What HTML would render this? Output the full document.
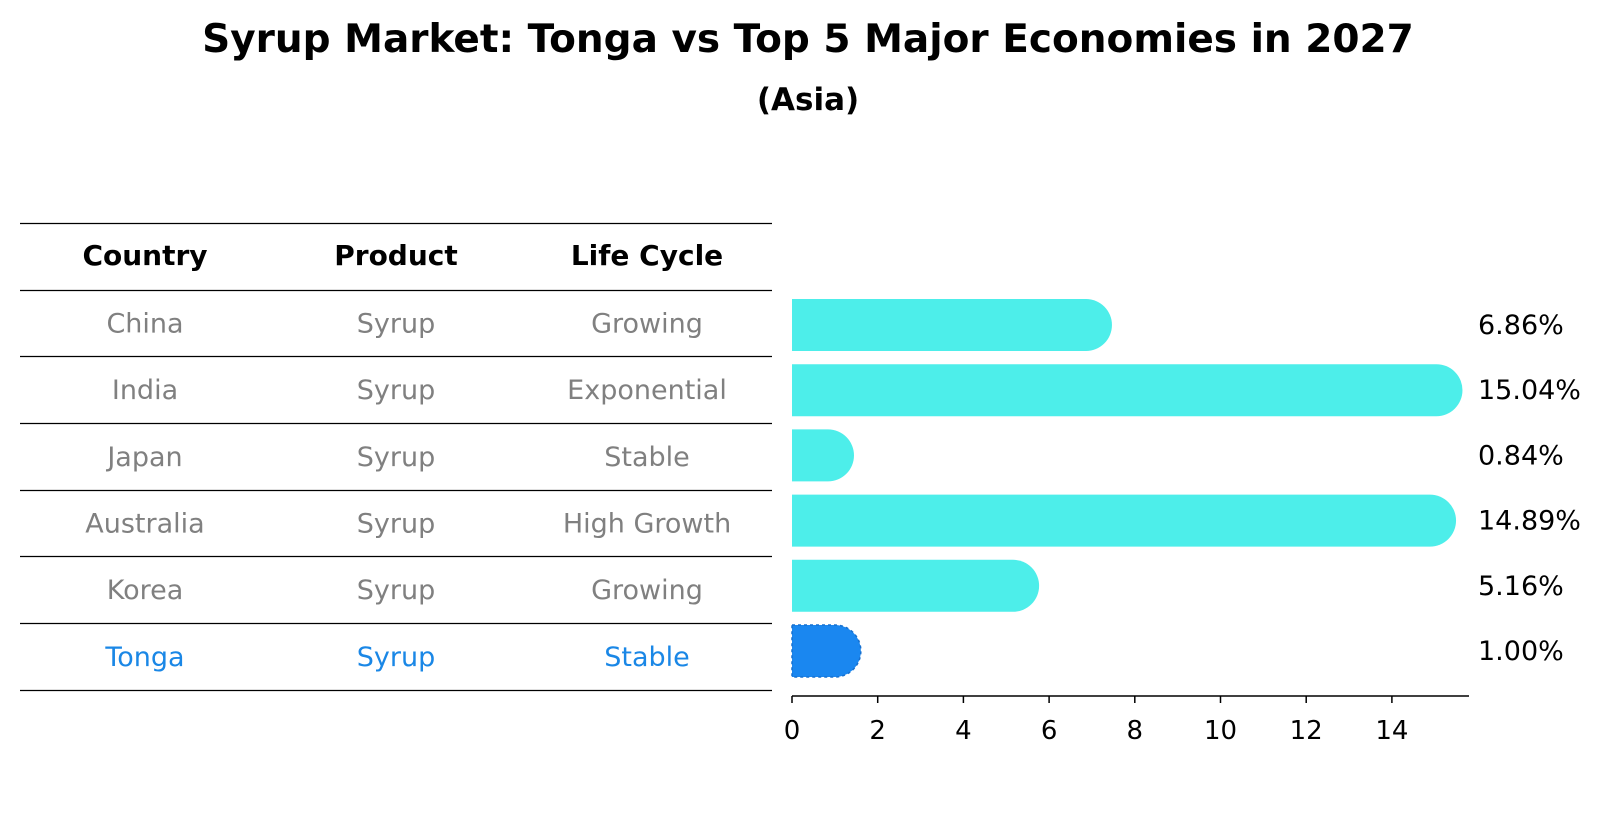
<!DOCTYPE html>
<html><head><meta charset="utf-8"><style>
body{margin:0;background:#fff;font-family:"Liberation Sans","DejaVu Sans",sans-serif}
svg text{font-family:"DejaVu Sans","Liberation Sans",sans-serif}
</style></head><body>
<svg id="c" width="1604" height="823" xmlns="http://www.w3.org/2000/svg">
<text x="808" y="52" text-anchor="middle" font-size="39" font-weight="bold">Syrup Market: Tonga vs Top 5 Major Economies in 2027</text>
<text x="808" y="110" text-anchor="middle" font-size="31" font-weight="bold">(Asia)</text>
<g id="table"></g>
<g id="bars"></g>
</svg>
<script>
const countries=["China","India","Japan","Australia","Korea","Tonga"];
const products=["Syrup","Syrup","Syrup","Syrup","Syrup","Syrup"];
const lifecycles=["Growing","Exponential","Stable","High Growth","Growing","Stable"];
const values=[6.86,15.04,0.84,14.89,5.16,1.00];
const labels=["6.86%","15.04%","0.84%","14.89%","5.16%","1.00%"];
const ticks=[0,2,4,6,8,10,12,14];
const NS="http://www.w3.org/2000/svg";
function mk(tag,attrs,parent,txt){const e=document.createElementNS(NS,tag);for(const k in attrs)e.setAttribute(k,attrs[k]);if(txt!==undefined)e.textContent=txt;parent.appendChild(e);return e;}
const x0=792,sc=42.85,y0=325,dy=65.2,h=52,r=26;
const X=v=>x0+v*sc, Y=i=>y0+i*dy;
const tb=document.getElementById('table'), bg=document.getElementById('bars');
const colX=[145,396,647];
const lineY=[223,290,356,423,490,556,623,690];
lineY.forEach(y=>{const l=mk('line',{x1:20,x2:772,y1:y+0.5,y2:y+0.5,stroke:'#000','stroke-width':1.2},tb);

});
["Country","Product","Life Cycle"].forEach((t,j)=>{const e=mk('text',{x:colX[j],y:265,'text-anchor':'middle','font-size':28,'font-weight':'bold'},tb,t);

});
countries.forEach((c,i)=>{const cy=(lineY[i+1]+lineY[i+2])/2+9.5;const col=c==="Tonga"?"#1a87e6":"#808080";
[c,products[i],lifecycles[i]].forEach((t,j)=>{const e=mk('text',{x:colX[j],y:cy,'text-anchor':'middle','font-size':27,fill:col},tb,t);

});
const isT=c==="Tonga";const xe=X(values[i]),yc=Y(i);
const d=`M${x0},${yc-h/2} H${xe} A${r},${r} 0 0 1 ${xe},${yc+h/2} H${x0} Z`;
const b=mk('path',{d:d,fill:isT?'#1a87f0':'#4deeea',stroke:isT?'#1670d0':'none','stroke-width':isT?1.5:0,'stroke-dasharray':isT?'3,3':''},bg);


const lb=mk('text',{x:1478,y:yc+9,'font-size':27},bg,labels[i]);

});
const ax=mk('line',{x1:x0,x2:1469,y1:696,y2:696,stroke:'#000','stroke-width':1.5},bg);


ticks.forEach(t=>{const tk=mk('line',{x1:X(t),x2:X(t),y1:696,y2:703,stroke:'#000','stroke-width':1.5},bg);


const tl=mk('text',{x:X(t),y:739,'text-anchor':'middle','font-size':26},bg,String(t));

});
</script>
</body></html>
